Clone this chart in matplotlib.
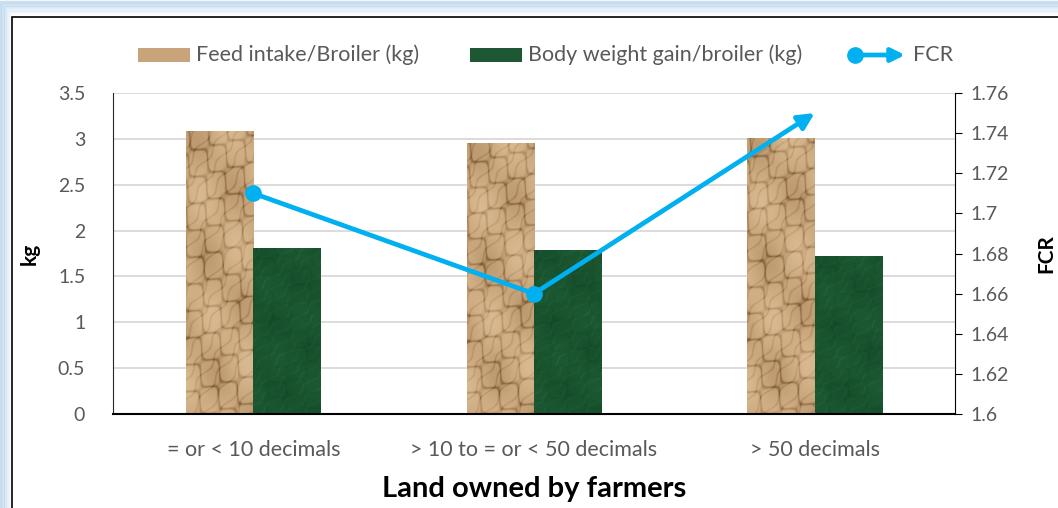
import numpy as np
import matplotlib
matplotlib.use("Agg")
import matplotlib.pyplot as plt
from matplotlib.patches import Rectangle, FancyArrowPatch
from matplotlib.lines import Line2D
from matplotlib.colors import LinearSegmentedColormap

plt.rcParams['font.family'] = ['Lato', 'DejaVu Sans']

# data
categories = ['= or < 10 decimals', '> 10 to = or < 50 decimals', '> 50 decimals']
feed_intake = [3.09, 2.95, 3.01]
weight_gain = [1.81, 1.79, 1.72]
fcr = [1.71, 1.66, 1.75]
kg_ticks = [0, 0.5, 1, 1.5, 2, 2.5, 3, 3.5]
fcr_ticks = [1.6, 1.62, 1.64, 1.66, 1.68, 1.7, 1.72, 1.74, 1.76]

TAN = '#C9A47A'
GREEN = '#1D5733'
BLUE = '#00B0F0'
GREY = '#595959'

paper = LinearSegmentedColormap.from_list('paper', ['#7C5B36', '#B08C62', '#CBA97F', '#DDBF97'])
marble = LinearSegmentedColormap.from_list('marble', ['#0D381C', '#17502C', '#1E5D36', '#347C4F'])

# deterministic crumple / marble pattern in pixel-like units (styling only)
u, v = np.meshgrid(np.linspace(0, 68, 90), np.linspace(0, 290, 380))
s1 = np.sin(u / 7.3 + v / 9.1) + 0.8 * np.sin(-u / 5.1 + v / 8.3 + 1.3)
s2 = np.sin(u / 4.7 - v / 6.9 + 2.1) + 0.6 * np.sin(u / 11.3 + v / 5.7 + 0.4)
shade = 0.5 * np.sin(u / 13.0 + v / 17.0) + 0.3 * np.sin(-u / 9.0 + v / 23.0)
crumple = 0.7 + 0.25 * shade - 0.45 * np.exp(-(s1 / 0.22) ** 2) - 0.3 * np.exp(-(s2 / 0.18) ** 2)
mottle = 0.45 + 0.15 * shade + 0.25 * np.exp(-(s2 / 0.15) ** 2) - 0.1 * np.exp(-(s1 / 0.3) ** 2)


def textured(ax, bars, pattern, cmap):
    for b in bars:
        x0, y0 = b.get_x(), b.get_y()
        im = ax.imshow(pattern, extent=[x0, x0 + b.get_width(), y0, y0 + b.get_height()],
                       cmap=cmap, vmin=0, vmax=1, aspect='auto', origin='lower', zorder=2.5,
                       interpolation='bilinear')
        im.set_clip_path(b)


fig = plt.figure(figsize=(10.58, 5.08), dpi=100)
W, H = 1058.0, 508.0

# frame with bluish shadow
for i, a in enumerate([0.10, 0.18, 0.28, 0.40, 0.55]):
    off = 12 - i * 2.4
    fig.patches.append(Rectangle((off / W - 0.002, -0.1), 1.2, 1.1 - (17 - i * 2.4 - 5) / H,
                                 transform=fig.transFigure, facecolor='none',
                                 edgecolor='#9DC3E6', lw=2.5, alpha=a, zorder=0))
fig.patches.append(Rectangle((12 / W, -0.1), 1.2, 1.1 - 17 / H, transform=fig.transFigure,
                             facecolor='white', edgecolor='black', lw=1.2, zorder=1))

ax = fig.add_axes([113 / W, 1 - 414 / H, (955 - 113) / W, (414 - 93) / H])
ax.set_zorder(2)
ax.patch.set_alpha(0)
x = np.arange(len(categories))
bw = 0.24
b1 = ax.bar(x - bw / 2, feed_intake, bw, color=TAN, zorder=2)
b2 = ax.bar(x + bw / 2, weight_gain, bw, color=GREEN, zorder=2)
textured(ax, b1, crumple, paper)
textured(ax, b2, mottle, marble)
ax.set_xlim(-0.5, 2.5)
ax.set_ylim(0, 3.5)
ax.set_yticks(kg_ticks)
ax.set_yticklabels(['0', '0.5', '1', '1.5', '2', '2.5', '3', '3.5'])
ax.grid(axis='y', color='#D9D9D9', lw=1.3, zorder=0)
ax.set_axisbelow(True)
ax.tick_params(axis='y', length=0, labelsize=14, labelcolor=GREY, pad=20)
ax.tick_params(axis='x', length=0, labelsize=15.5, labelcolor=GREY, pad=19)
ax.set_xticks(x)
ax.set_xticklabels(categories)
for s in ['top', 'right']:
    ax.spines[s].set_visible(False)
ax.spines['left'].set_color('#262626')
ax.spines['bottom'].set_color('black')
ax.spines['bottom'].set_linewidth(1.5)
ax.set_ylabel('kg', fontsize=15, fontweight='bold', labelpad=13)
ax.set_xlabel('Land owned by farmers', fontsize=21, fontweight='bold', labelpad=11)

ax2 = ax.twinx()
ax2.set_ylim(1.6, 1.76)
ax2.set_yticks(fcr_ticks)
ax2.set_yticklabels(['1.6', '1.62', '1.64', '1.66', '1.68', '1.7', '1.72', '1.74', '1.76'])
ax2.tick_params(axis='y', direction='out', length=5, labelsize=14, labelcolor=GREY, pad=6)
for s in ['top', 'left', 'bottom']:
    ax2.spines[s].set_visible(False)
ax2.spines['right'].set_color('black')
ax2.set_ylabel('FCR', fontsize=15, fontweight='bold', labelpad=20)
ax2.plot(x[:-1], fcr[:-1], color=BLUE, lw=3.4, marker='o', ms=11, zorder=5)
ax2.annotate('', xy=(x[-1], fcr[-1]), xytext=(x[-2], fcr[-2]),
             arrowprops=dict(arrowstyle='-|>', color=BLUE, lw=3.4, mutation_scale=24,
                             shrinkA=0, shrinkB=0), zorder=5)

# legend
ly = 1 - 55 / H
fig.patches.append(Rectangle((138 / W, 1 - 62 / H), 52 / W, 14 / H, transform=fig.transFigure,
                             facecolor=TAN, edgecolor='none', zorder=3))
fig.text(196 / W, ly, 'Feed intake/Broiler (kg)', fontsize=15.5, color=GREY, va='center', zorder=3)
fig.patches.append(Rectangle((470 / W, 1 - 62 / H), 52 / W, 14 / H, transform=fig.transFigure,
                             facecolor=GREEN, edgecolor='none', zorder=3))
fig.text(528 / W, ly, 'Body weight gain/broiler (kg)', fontsize=15.5, color=GREY, va='center', zorder=3)
fig.lines.append(Line2D([855 / W], [ly], transform=fig.transFigure, marker='o', ms=11,
                        color=BLUE, zorder=3))
fig.patches.append(FancyArrowPatch((855 / W, ly), (905 / W, ly), transform=fig.transFigure,
                                   arrowstyle='-|>', color=BLUE, lw=3.4, mutation_scale=20,
                                   shrinkA=0, shrinkB=0, zorder=3))
fig.text(913 / W, ly, 'FCR', fontsize=15.5, color=GREY, va='center', zorder=3)

fig.savefig('out.png', dpi=100)
